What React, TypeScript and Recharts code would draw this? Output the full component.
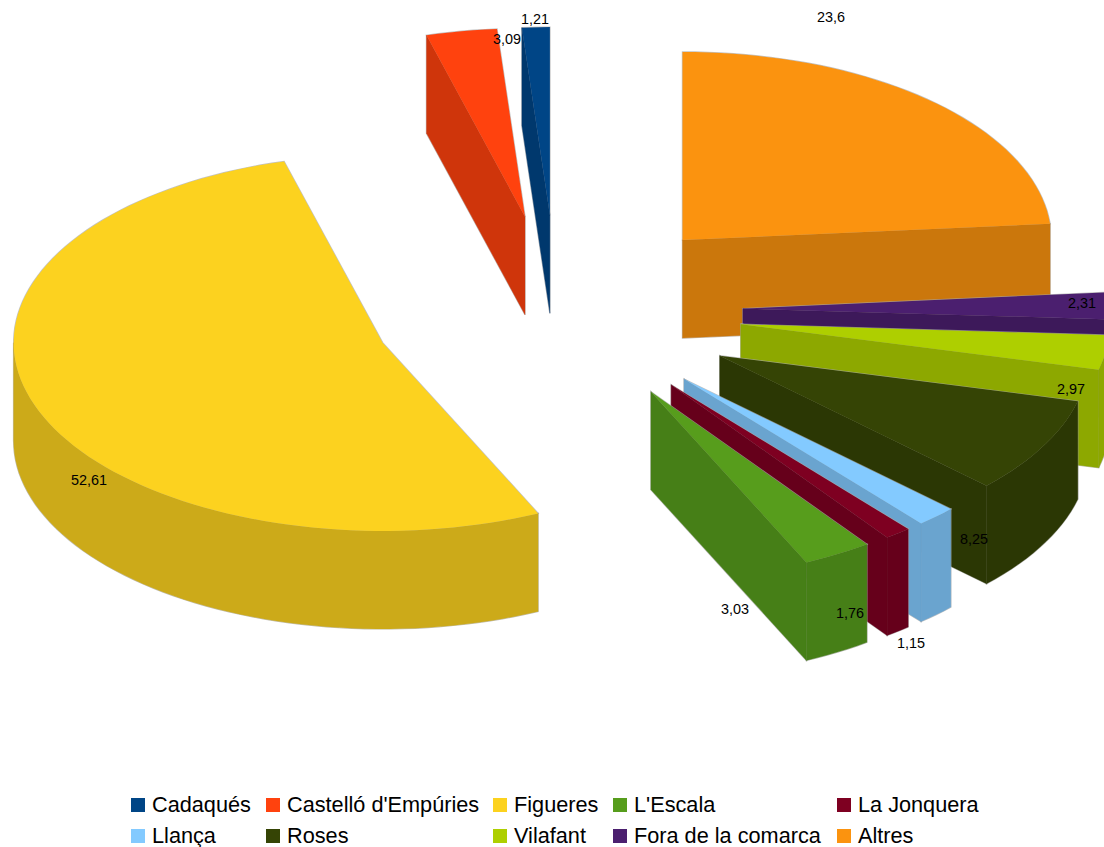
import { PieChart, Pie, Legend } from "recharts";

// order of the legend and of the slices, counter-clockwise from the top
const names = ["Cadaqués", "Castelló d'Empúries", "Figueres", "L'Escala", "La Jonquera", "Llança", "Roses", "Vilafant", "Fora de la comarca", "Altres"];
const shares = [1.21, 3.09, 52.61, 3.03, 1.15, 1.76, 8.25, 2.97, 2.31, 23.6];
const valueLabels = ["1,21", "3,09", "52,61", "3,03", "1,15", "1,76", "8,25", "2,97", "2,31", "23,6"];
const colors = ["#004586", "#ff420e", "#fcd21f", "#579d1c", "#7e0021", "#83caff", "#354405", "#aecf00", "#4b1f6f", "#fb930f"];

const W = 1104;
const H = 847;
const CX = 557;
const CY = 310;
const R = 369;
const SQUASH = 0.51; // tilt of the pie plane
const EXPLODE = 0.5035;
const DEPTH = 98;
const WALL = 0.81;

// label centres relative to the pie centre, LibreOffice puts them oddly
const labelOffsets: Record<string, [number, number]> = {
  "Cadaqués": [-22, -291],
  "Castelló d'Empúries": [-50, -271],
  "Figueres": [-468, 170],
  "L'Escala": [178, 299],
  "La Jonquera": [354, 333],
  "Llança": [293, 303],
  "Roses": [417, 229],
  "Vilafant": [514, 79],
  "Fora de la comarca": [525, -7],
  "Altres": [274, -293],
};

// backmost slice first, so nearer slices paint over it
const rows = names.map((name, i) => ({ name, value: shares[i], fill: colors[i], label: valueLabels[i] })).reverse();

const RAD = Math.PI / 180;

function darken(hex: string) {
  const n = parseInt(hex.slice(1), 16);
  const c = [(n >> 16) & 255, (n >> 8) & 255, n & 255].map((v) => Math.round(v * WALL));
  return `rgb(${c.join(",")})`;
}

function Slice3D(props: any) {
  const { cx, cy, outerRadius, startAngle, endAngle, fill } = props;
  const a0 = Math.min(startAngle, endAngle);
  const a1 = Math.max(startAngle, endAngle);
  const mid = (a0 + a1) / 2;
  const ox = cx + EXPLODE * outerRadius * Math.cos(mid * RAD);
  const oy = cy - EXPLODE * outerRadius * SQUASH * Math.sin(mid * RAD);
  const at = (a: number, r = outerRadius): [number, number] => [ox + r * Math.cos(a * RAD), oy - r * SQUASH * Math.sin(a * RAD)];
  const arc = (from: number, to: number) => {
    const out: [number, number][] = [];
    const steps = Math.max(2, Math.ceil((to - from) / 2));
    for (let i = 0; i <= steps; i++) out.push(at(from + ((to - from) * i) / steps));
    return out;
  };
  const d = (pts: [number, number][]) => "M" + pts.map((p) => `${p[0].toFixed(1)},${p[1].toFixed(1)}`).join("L") + "Z";
  const drop = (pts: [number, number][]) => pts.map((p) => [p[0], p[1] + DEPTH] as [number, number]);
  const wall = darken(fill);
  const faces: [number, number][][] = [];

  // radial side faces, only when their normal points down the screen
  if (Math.sin((a0 - 90) * RAD) < 0) {
    const e = [[ox, oy], at(a0)] as [number, number][];
    faces.push([...e, ...drop(e).reverse()]);
  }
  if (Math.sin((a1 + 90) * RAD) < 0) {
    const e = [[ox, oy], at(a1)] as [number, number][];
    faces.push([...e, ...drop(e).reverse()]);
  }
  // rim, the part in the front half of the ellipse
  for (const k of [0, 360]) {
    const from = Math.max(a0, 180 + k);
    const to = Math.min(a1, 360 + k);
    if (to > from) {
      const e = arc(from, to);
      faces.push([...e, ...drop(e).reverse()]);
    }
  }
  const top = d([[ox, oy], ...arc(a0, a1)]);

  return (
    <g>
      {/* grey underlay leaves a thin outline round the whole slice only */}
      {faces.map((f, i) => (
        <path key={i} d={d(f)} fill="none" stroke="#a8a8a8" strokeOpacity={0.7} strokeWidth={1.4} />
      ))}
      <path d={top} fill="none" stroke="#a8a8a8" strokeOpacity={0.7} strokeWidth={1.4} />
      {faces.map((f, i) => (
        <path key={i} d={d(f)} fill={wall} stroke={wall} strokeWidth={0.3} />
      ))}
      <path d={top} fill={fill} />
    </g>
  );
}

function ValueLabel(props: any) {
  const { cx, cy, index } = props;
  const row = rows[index];
  const [dx, dy] = labelOffsets[row.name];
  return (
    <text x={cx + dx} y={cy + dy} textAnchor="middle" dominantBaseline="central" fontSize={14.4} fill="#000" fontFamily="'Liberation Sans', sans-serif">
      {row.label}
    </text>
  );
}

function ChartLegend() {
  const columns = [131, 266, 493, 613, 837];
  const rowY = [798, 829];
  return (
    <div style={{ position: "absolute", left: 0, top: 0, width: W, height: H, fontFamily: "'Liberation Sans', sans-serif", fontSize: 21.7, color: "#000" }}>
      {names.map((name, i) => {
        const x = columns[i % 5];
        const y = rowY[Math.floor(i / 5)];
        return (
          <div key={name}>
            <div style={{ position: "absolute", left: x, top: y, width: 14, height: 14, background: colors[i] }} />
            <div style={{ position: "absolute", left: x + 21, top: y - 5, lineHeight: "24px", whiteSpace: "nowrap" }}>{name}</div>
          </div>
        );
      })}
    </div>
  );
}

export default function App() {
  return (
    <div style={{ position: "absolute", left: 0, top: 0, width: W, height: H, background: "#fff", overflow: "hidden" }}>
      <PieChart width={W} height={H} margin={{ top: 0, right: 0, bottom: 0, left: 0 }}>
        <Pie
          data={rows}
          dataKey="value"
          nameKey="name"
          cx={CX}
          cy={CY}
          innerRadius={0}
          outerRadius={R}
          startAngle={450}
          endAngle={90}
          stroke="none"
          shape={Slice3D}
          label={ValueLabel}
          labelLine={false}
          isAnimationActive={false}
        />
        <Legend content={<ChartLegend />} wrapperStyle={{ position: "absolute", left: 0, top: 0, width: W, height: H }} />
      </PieChart>
    </div>
  );
}
